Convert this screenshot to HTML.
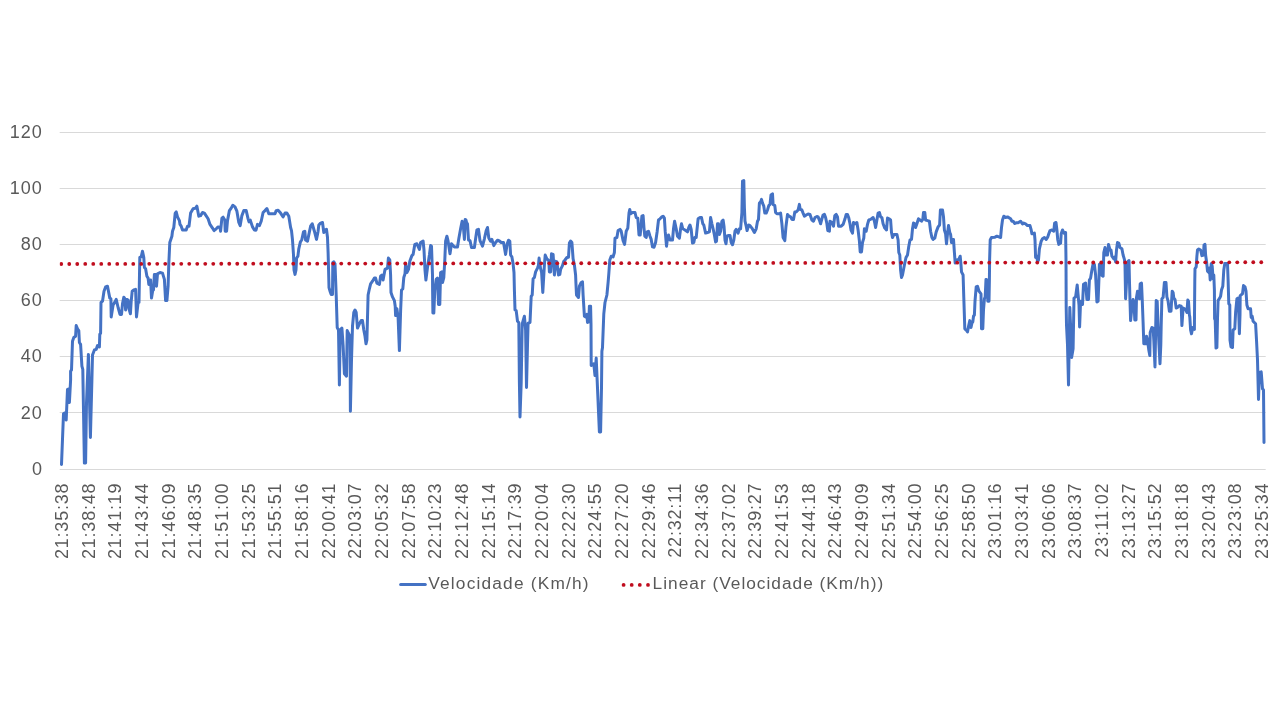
<!DOCTYPE html>
<html><head><meta charset="utf-8"><title>Velocidade (Km/h)</title>
<style>
html,body{margin:0;padding:0;background:#fff;}
body{width:1280px;height:720px;overflow:hidden;font-family:"Liberation Sans",sans-serif;}
svg{display:block;}
svg text{font-family:"Liberation Sans",sans-serif;fill:#595959;}
.ax{font-size:18px;letter-spacing:0.8px;}.ay{font-size:18px;letter-spacing:1px;}
.lg{font-size:17.3px;}
</style></head><body>
<svg width="1280" height="720" viewBox="0 0 1280 720">
<rect x="0" y="0" width="1280" height="720" fill="#ffffff"/>
<g stroke="#d9d9d9" stroke-width="1" fill="none">
<line x1="59.7" y1="132.5" x2="1265.7" y2="132.5"/>
<line x1="59.7" y1="188.5" x2="1265.7" y2="188.5"/>
<line x1="59.7" y1="244.5" x2="1265.7" y2="244.5"/>
<line x1="59.7" y1="300.5" x2="1265.7" y2="300.5"/>
<line x1="59.7" y1="356.5" x2="1265.7" y2="356.5"/>
<line x1="59.7" y1="412.5" x2="1265.7" y2="412.5"/>
<line x1="59.7" y1="469.5" x2="1265.7" y2="469.5"/>
</g>
<g class="ay" text-anchor="end">
<text x="42.9" y="138.2">120</text>
<text x="42.9" y="194.2">100</text>
<text x="42.9" y="250.2">80</text>
<text x="42.9" y="306.2">60</text>
<text x="42.9" y="362.2">40</text>
<text x="42.9" y="418.6">20</text>
<text x="42.9" y="475.2">0</text>
</g>
<g class="ax" text-anchor="end">
<text transform="translate(68.15 482.6) rotate(-90)">21:35:38</text>
<text transform="translate(94.81 482.6) rotate(-90)">21:38:48</text>
<text transform="translate(121.48 482.6) rotate(-90)">21:41:19</text>
<text transform="translate(148.14 482.6) rotate(-90)">21:43:44</text>
<text transform="translate(174.80 482.6) rotate(-90)">21:46:09</text>
<text transform="translate(201.47 482.6) rotate(-90)">21:48:35</text>
<text transform="translate(228.13 482.6) rotate(-90)">21:51:00</text>
<text transform="translate(254.79 482.6) rotate(-90)">21:53:25</text>
<text transform="translate(281.46 482.6) rotate(-90)">21:55:51</text>
<text transform="translate(308.12 482.6) rotate(-90)">21:58:16</text>
<text transform="translate(334.78 482.6) rotate(-90)">22:00:41</text>
<text transform="translate(361.45 482.6) rotate(-90)">22:03:07</text>
<text transform="translate(388.11 482.6) rotate(-90)">22:05:32</text>
<text transform="translate(414.77 482.6) rotate(-90)">22:07:58</text>
<text transform="translate(441.44 482.6) rotate(-90)">22:10:23</text>
<text transform="translate(468.10 482.6) rotate(-90)">22:12:48</text>
<text transform="translate(494.76 482.6) rotate(-90)">22:15:14</text>
<text transform="translate(521.43 482.6) rotate(-90)">22:17:39</text>
<text transform="translate(548.09 482.6) rotate(-90)">22:20:04</text>
<text transform="translate(574.75 482.6) rotate(-90)">22:22:30</text>
<text transform="translate(601.42 482.6) rotate(-90)">22:24:55</text>
<text transform="translate(628.08 482.6) rotate(-90)">22:27:20</text>
<text transform="translate(654.74 482.6) rotate(-90)">22:29:46</text>
<text transform="translate(681.41 482.6) rotate(-90)">22:32:11</text>
<text transform="translate(708.07 482.6) rotate(-90)">22:34:36</text>
<text transform="translate(734.73 482.6) rotate(-90)">22:37:02</text>
<text transform="translate(761.40 482.6) rotate(-90)">22:39:27</text>
<text transform="translate(788.06 482.6) rotate(-90)">22:41:53</text>
<text transform="translate(814.72 482.6) rotate(-90)">22:44:18</text>
<text transform="translate(841.39 482.6) rotate(-90)">22:46:43</text>
<text transform="translate(868.05 482.6) rotate(-90)">22:49:09</text>
<text transform="translate(894.71 482.6) rotate(-90)">22:51:34</text>
<text transform="translate(921.38 482.6) rotate(-90)">22:54:00</text>
<text transform="translate(948.04 482.6) rotate(-90)">22:56:25</text>
<text transform="translate(974.70 482.6) rotate(-90)">22:58:50</text>
<text transform="translate(1001.37 482.6) rotate(-90)">23:01:16</text>
<text transform="translate(1028.03 482.6) rotate(-90)">23:03:41</text>
<text transform="translate(1054.69 482.6) rotate(-90)">23:06:06</text>
<text transform="translate(1081.36 482.6) rotate(-90)">23:08:37</text>
<text transform="translate(1108.02 482.6) rotate(-90)">23:11:02</text>
<text transform="translate(1134.68 482.6) rotate(-90)">23:13:27</text>
<text transform="translate(1161.35 482.6) rotate(-90)">23:15:52</text>
<text transform="translate(1188.01 482.6) rotate(-90)">23:18:18</text>
<text transform="translate(1214.67 482.6) rotate(-90)">23:20:43</text>
<text transform="translate(1241.34 482.6) rotate(-90)">23:23:08</text>
<text transform="translate(1268.00 482.6) rotate(-90)">23:25:34</text>
</g>
<polyline fill="none" stroke="#4472c4" stroke-width="3" stroke-linejoin="round" stroke-linecap="round" points="61.5,464.4 63.5,413.8 65.0,412.8 66.2,420.0 67.5,389.4 68.8,389.0 69.4,402.5 70.6,380.0 70.6,371.2 71.5,370.0 72.5,341.2 73.8,337.5 75.6,336.2 76.2,325.6 77.5,328.8 78.8,330.6 79.4,342.5 80.6,344.4 81.9,366.2 82.8,369.4 84.4,463.1 85.6,463.1 86.5,403.1 88.4,354.4 90.4,437.5 91.9,380.0 92.5,355.0 94.4,350.0 96.2,349.4 97.5,345.6 99.4,346.9 99.8,334.4 100.6,333.1 101.0,302.5 102.5,301.2 104.0,291.2 105.6,286.9 107.5,286.2 109.8,298.1 110.9,298.8 111.2,316.9 113.1,305.0 115.0,301.9 116.2,299.4 118.1,307.5 120.0,314.4 121.5,314.4 122.5,303.8 123.8,297.2 125.0,298.8 125.6,310.0 126.9,299.4 128.1,300.0 129.0,308.8 130.4,313.8 131.2,301.2 132.2,291.2 133.8,290.0 135.6,289.4 136.5,316.9 138.1,302.5 139.0,302.5 139.8,257.5 141.2,256.9 142.5,251.2 143.8,257.5 144.4,267.5 145.6,268.8 146.9,276.2 148.1,278.1 148.8,284.4 150.6,280.0 151.5,298.1 152.8,290.0 153.5,290.0 154.4,274.4 155.6,274.4 156.5,286.2 157.5,273.8 160.0,272.5 162.5,273.1 164.4,279.4 165.6,300.6 166.9,300.6 168.1,286.2 168.8,263.8 169.8,242.5 171.9,236.2 172.5,231.2 173.8,227.5 175.2,213.1 176.2,211.9 177.5,216.9 179.4,220.6 180.0,224.4 181.2,226.2 182.5,230.0 186.2,230.0 187.5,226.2 189.0,226.2 190.6,213.1 193.1,208.8 195.6,208.1 196.9,206.2 198.8,216.2 200.6,215.6 202.5,212.5 204.4,213.1 208.1,218.8 210.0,224.4 212.5,228.1 214.0,230.6 216.2,228.8 218.1,226.9 220.0,227.5 220.6,231.2 221.9,218.1 223.1,217.2 224.8,220.0 225.2,231.2 226.6,231.2 227.5,220.6 229.4,210.6 231.2,208.1 232.8,205.2 235.0,206.9 236.9,211.2 238.8,222.5 240.2,225.6 241.9,215.6 243.8,210.6 246.2,210.6 248.1,218.8 249.0,221.9 250.2,220.0 252.5,226.9 254.4,230.0 256.0,230.2 257.5,224.4 259.4,225.6 261.2,221.2 263.1,212.5 265.0,210.6 266.9,208.5 268.8,213.8 275.0,213.8 276.2,210.6 278.1,210.2 280.6,213.1 283.1,216.9 285.0,213.1 286.9,213.1 288.8,216.2 290.6,227.5 291.5,230.6 292.5,240.0 293.5,255.0 294.0,270.0 295.0,274.4 296.0,270.0 296.6,258.1 297.9,256.2 298.8,248.8 300.4,241.9 301.9,239.4 303.5,231.9 304.8,231.2 305.6,240.0 307.5,241.2 309.4,231.9 310.6,226.2 312.2,223.8 314.4,231.2 316.5,239.4 318.1,231.2 318.8,225.0 320.6,223.1 322.5,222.5 323.8,232.5 325.0,230.0 326.5,229.4 327.5,237.5 328.1,252.5 328.5,267.5 329.0,287.5 330.0,291.2 331.2,294.4 332.5,294.4 332.8,262.5 333.8,261.9 335.0,263.8 336.2,295.0 337.2,327.5 338.5,330.0 339.4,385.0 340.2,330.0 341.9,328.1 343.1,345.0 344.4,373.8 346.5,376.2 347.2,330.6 348.8,333.8 350.0,336.2 350.4,411.2 351.5,360.0 352.5,326.2 353.8,312.5 355.0,310.0 356.2,312.5 357.5,328.1 359.4,323.8 361.2,320.6 362.5,320.6 363.8,330.0 365.0,336.2 366.0,343.8 366.9,340.0 368.1,295.0 369.4,288.8 370.6,283.8 372.5,281.2 374.4,278.1 375.6,278.1 376.9,283.1 379.4,284.4 380.6,276.2 381.9,275.0 383.1,280.0 385.0,269.4 387.5,268.1 388.4,258.1 389.8,260.0 390.6,275.0 391.0,292.5 392.5,296.9 394.4,300.6 395.2,306.2 395.6,315.6 396.9,308.8 398.1,317.5 399.4,350.6 400.6,311.2 401.5,290.0 402.8,288.8 403.8,277.5 405.0,273.8 405.6,263.8 406.9,272.5 408.5,269.4 409.8,261.2 411.9,255.6 413.1,254.4 414.8,244.4 416.9,243.8 419.4,249.4 420.6,242.5 423.1,241.0 424.0,250.0 425.0,270.0 425.9,280.0 427.5,267.5 429.4,255.0 430.6,245.6 431.5,246.2 432.5,275.0 432.6,290.0 432.9,313.1 433.8,313.1 434.8,290.0 436.2,279.4 437.5,278.1 438.5,304.4 439.8,304.4 440.6,272.5 441.9,271.9 442.5,282.5 443.8,277.5 444.8,260.0 445.6,241.2 446.9,236.2 448.1,241.2 450.0,253.8 451.5,243.8 454.4,246.9 457.5,246.9 458.8,238.8 460.6,228.8 462.1,221.2 463.1,223.1 464.4,239.4 465.2,219.4 466.0,220.0 466.9,223.8 467.5,223.8 468.5,240.0 470.0,240.6 471.5,247.5 474.4,247.5 475.6,238.8 476.9,230.0 478.5,229.4 480.0,240.6 482.5,246.2 484.4,238.8 486.2,230.6 487.5,227.5 488.8,238.1 490.6,241.2 491.9,239.4 493.8,245.6 495.6,242.5 497.5,240.2 499.4,241.0 501.2,242.5 503.5,242.5 504.4,247.5 505.6,254.4 507.2,243.8 508.5,240.2 509.8,241.2 510.6,255.0 511.9,256.9 513.1,263.8 514.0,272.5 514.4,290.0 515.0,310.0 516.2,310.6 517.5,321.2 518.8,322.5 519.4,382.5 520.0,416.9 521.2,382.5 522.2,323.8 524.4,316.2 525.6,330.0 526.5,387.5 527.5,345.0 528.1,323.1 530.0,322.5 531.2,296.2 532.2,295.0 533.1,278.8 534.4,277.5 535.6,271.9 537.5,268.1 538.4,265.6 539.1,258.1 540.2,266.9 541.6,272.5 542.8,292.5 544.4,265.0 545.2,255.0 546.9,258.8 548.8,260.6 549.4,271.9 550.6,271.9 551.5,253.8 553.1,254.4 554.4,275.0 555.6,261.2 556.9,261.9 558.5,275.0 559.8,274.4 560.6,269.4 562.5,265.6 563.8,261.2 565.0,260.0 566.9,257.5 568.5,257.2 569.4,243.1 570.6,241.0 571.9,242.5 573.1,258.8 574.4,265.0 575.6,275.0 575.9,282.5 576.5,295.0 578.5,297.5 579.4,286.2 581.2,282.5 582.5,281.9 583.1,295.0 584.4,316.2 585.6,316.9 586.9,314.4 587.5,322.5 588.8,321.9 589.4,306.2 590.6,306.2 591.0,323.8 591.2,365.6 593.8,363.8 595.0,375.6 596.2,358.1 599.4,431.9 600.6,431.9 601.5,387.5 601.9,351.2 602.5,347.5 603.8,313.8 605.0,302.5 606.9,295.0 608.1,282.5 608.8,273.8 609.8,260.0 611.2,256.2 613.1,256.9 614.4,252.5 615.0,238.1 616.9,237.5 618.1,230.6 620.0,229.4 621.2,231.2 623.1,240.6 624.6,244.4 626.2,231.2 627.8,228.1 629.0,213.1 629.8,209.4 630.6,213.8 632.5,212.5 635.0,212.5 636.2,217.5 637.8,218.1 639.0,235.0 640.2,235.0 641.9,216.2 643.1,215.6 644.0,228.1 644.8,236.2 646.2,237.5 647.2,231.9 648.5,231.2 650.0,236.2 651.2,239.4 652.5,246.9 654.0,247.2 655.6,242.5 657.2,231.2 658.5,220.0 660.0,218.8 661.9,216.9 663.1,216.2 664.4,218.1 665.2,231.2 666.5,246.2 667.5,238.1 668.5,235.0 670.0,240.0 672.5,240.0 673.5,228.8 674.6,221.2 676.2,228.8 677.5,236.2 679.4,238.1 680.6,228.8 681.5,223.8 682.8,228.8 685.0,230.0 687.5,231.9 688.8,227.5 690.0,225.0 691.2,229.4 692.5,243.1 693.8,242.5 694.8,237.5 696.2,237.5 698.1,218.8 700.0,217.5 701.5,217.5 702.8,223.8 703.8,225.0 705.6,233.1 707.5,232.5 709.4,231.9 710.6,217.5 711.9,223.8 713.1,228.8 714.4,235.0 715.6,241.9 716.5,241.2 717.5,223.8 718.5,223.8 719.4,234.4 720.6,231.2 721.9,221.2 723.1,220.0 724.0,226.2 725.0,240.0 726.0,243.8 726.9,236.2 728.1,235.6 730.0,235.6 731.2,242.5 732.5,244.8 733.8,240.0 735.0,231.2 736.2,229.4 738.1,233.1 739.4,228.8 740.6,228.8 741.9,212.5 742.5,181.2 743.8,180.6 744.4,207.5 745.0,221.2 746.2,226.2 747.1,230.6 748.8,225.0 750.0,225.6 751.9,228.1 754.4,232.5 756.2,228.8 757.5,221.2 758.5,219.4 759.4,203.1 760.6,201.9 761.5,199.4 762.5,203.1 763.8,206.2 764.8,213.1 766.2,213.1 767.5,210.0 768.8,205.6 770.0,204.4 771.0,195.0 772.5,193.8 773.1,204.4 774.8,205.6 775.6,212.5 776.9,213.8 779.4,213.8 780.6,213.1 781.9,223.8 783.1,237.5 784.8,240.6 786.0,226.2 787.5,214.4 789.0,216.2 790.6,216.9 791.9,219.4 793.5,219.4 794.8,211.9 796.2,211.9 798.1,210.0 799.4,204.4 800.2,209.4 801.9,210.0 803.1,213.1 804.4,216.2 806.2,215.0 808.1,214.0 810.0,214.4 811.9,220.0 813.5,221.2 815.0,217.5 816.9,216.5 818.1,216.9 819.8,221.2 820.6,223.8 821.9,218.8 823.1,215.0 824.4,214.4 825.6,217.5 826.9,223.8 827.8,230.6 829.4,231.2 830.0,221.2 831.9,222.5 833.5,226.2 834.8,215.6 836.2,214.4 837.5,216.9 838.5,226.2 841.2,226.2 843.1,224.4 845.0,218.8 846.2,214.4 847.5,214.4 848.8,218.1 850.0,223.8 851.0,230.0 852.5,233.1 853.5,222.5 855.0,223.8 856.9,222.5 858.1,230.0 859.4,241.2 860.2,251.9 861.5,251.9 862.5,242.5 863.8,238.1 864.4,228.8 866.2,231.2 867.5,224.4 868.8,220.0 870.6,219.4 873.1,217.5 874.4,221.2 875.6,227.5 876.9,220.0 878.1,213.1 879.4,212.5 880.6,216.9 881.9,217.5 883.1,223.8 884.8,228.1 886.5,230.0 887.5,218.1 889.0,218.8 890.6,220.0 891.5,232.5 892.5,237.5 894.0,234.4 896.9,234.4 898.1,240.0 898.8,252.5 899.8,255.0 900.6,270.0 901.5,277.5 902.5,275.0 904.4,265.0 906.0,257.5 907.5,255.0 908.8,246.2 910.0,240.0 911.5,239.4 912.5,228.8 913.5,223.1 914.8,223.8 915.6,227.5 916.9,223.8 918.5,218.8 920.0,220.0 921.5,221.2 922.8,219.4 923.5,212.5 924.8,212.5 925.6,220.0 927.5,220.6 929.4,221.2 930.6,231.2 931.9,237.5 933.1,239.4 934.8,238.1 936.2,231.9 938.1,226.9 939.6,225.0 940.4,210.0 942.5,210.0 943.5,216.9 944.4,230.0 945.6,233.8 946.5,243.8 947.5,233.8 948.5,225.6 949.8,232.5 950.6,234.4 951.5,242.5 952.5,239.4 953.5,239.4 954.4,252.5 955.2,263.1 956.9,260.0 958.8,259.4 960.2,256.2 961.0,265.0 961.5,271.9 963.1,275.0 963.8,297.5 964.8,328.8 966.2,330.0 967.5,331.9 968.8,325.0 969.8,320.6 971.0,327.5 971.9,323.1 972.8,321.9 973.5,316.2 974.4,315.0 975.0,301.2 976.2,286.9 977.5,286.2 979.0,291.2 981.0,293.8 981.5,328.8 982.8,328.8 983.5,310.0 984.4,298.8 985.2,296.9 986.0,279.4 987.2,280.0 987.8,301.2 989.0,301.2 989.4,280.0 989.6,260.0 990.2,240.0 991.5,237.5 995.0,237.2 996.9,236.2 998.8,236.9 1000.6,237.5 1001.5,227.5 1002.5,220.0 1003.8,216.2 1005.6,217.5 1007.5,216.9 1010.6,218.8 1011.9,221.2 1013.1,221.2 1014.8,223.5 1016.2,222.8 1018.1,222.8 1020.6,221.2 1022.5,224.0 1023.8,223.1 1025.6,223.8 1027.5,225.6 1030.0,225.6 1031.2,230.0 1031.9,233.8 1034.4,233.1 1035.0,240.0 1035.6,257.5 1036.9,256.2 1037.5,261.9 1038.5,260.0 1039.4,248.8 1041.2,241.2 1042.5,238.8 1044.4,237.5 1046.2,239.4 1047.8,236.9 1048.8,233.8 1050.0,230.6 1051.9,230.0 1053.8,231.2 1054.6,223.1 1056.0,222.5 1056.9,230.0 1057.8,240.0 1058.8,244.4 1060.6,243.1 1061.2,233.8 1062.5,230.0 1064.0,233.1 1065.6,232.5 1066.0,260.0 1066.2,307.5 1066.5,325.0 1067.5,345.0 1068.5,385.0 1069.2,345.0 1069.8,307.5 1070.6,326.2 1071.6,357.5 1073.1,348.8 1074.0,298.1 1075.6,296.9 1077.2,285.0 1078.1,295.0 1079.0,305.0 1079.6,326.9 1080.6,301.2 1082.5,304.4 1083.5,284.4 1085.6,283.1 1086.9,299.4 1088.5,299.4 1089.4,280.0 1090.6,278.1 1091.9,270.0 1093.1,263.8 1094.4,264.4 1095.6,275.0 1096.9,301.9 1098.1,301.2 1099.0,277.5 1099.4,264.4 1100.6,263.8 1101.5,275.0 1103.1,276.2 1103.8,252.5 1105.0,247.5 1106.2,255.0 1107.5,255.0 1108.5,244.4 1110.0,250.0 1111.0,250.0 1111.9,256.2 1113.8,258.8 1115.0,256.9 1115.6,261.9 1116.5,250.0 1117.5,242.5 1118.8,243.1 1120.0,247.5 1121.9,248.8 1123.1,255.0 1124.4,259.4 1125.0,265.0 1125.6,298.8 1126.5,282.5 1128.1,261.2 1129.0,260.6 1129.5,282.5 1130.0,301.2 1130.6,320.6 1131.9,307.5 1133.1,299.4 1134.0,302.5 1134.8,320.0 1136.0,320.0 1136.5,297.5 1137.5,291.2 1138.8,291.9 1139.4,298.8 1140.2,283.8 1141.5,283.1 1142.2,298.8 1143.1,322.5 1143.8,343.8 1145.6,343.8 1146.5,336.2 1147.5,340.0 1148.8,350.0 1149.8,355.6 1150.2,332.5 1151.9,327.5 1153.1,328.1 1153.8,340.0 1155.0,366.9 1155.6,332.5 1156.2,300.6 1157.2,301.2 1158.1,326.2 1159.0,345.0 1160.0,363.8 1160.8,345.0 1161.2,325.0 1161.9,298.8 1163.1,297.5 1164.4,282.5 1166.0,282.5 1166.9,296.9 1168.1,301.2 1169.4,311.2 1171.0,311.2 1172.2,291.2 1173.1,292.5 1173.8,298.1 1175.0,299.4 1176.2,308.1 1177.5,307.5 1179.4,305.6 1181.2,306.2 1181.9,325.6 1183.1,308.1 1185.6,309.4 1186.9,312.5 1187.8,300.0 1188.5,301.2 1189.4,315.0 1189.8,316.9 1190.6,330.0 1191.5,333.8 1192.8,327.5 1194.4,329.4 1194.6,302.5 1194.8,280.0 1195.0,268.8 1196.2,266.9 1196.9,256.2 1197.5,250.0 1198.8,249.0 1200.6,250.0 1201.9,255.6 1203.5,255.0 1204.0,245.0 1205.0,244.4 1205.6,255.0 1206.5,261.2 1207.5,271.2 1208.8,272.5 1209.4,268.1 1210.2,280.0 1211.2,263.8 1212.2,266.2 1213.1,278.8 1213.8,275.0 1214.4,290.0 1214.6,318.8 1215.2,320.0 1216.0,348.1 1216.9,347.5 1217.5,318.8 1218.1,300.6 1220.0,297.5 1220.6,296.2 1221.5,290.0 1222.8,286.2 1223.8,270.0 1224.8,263.5 1227.5,263.5 1228.1,280.0 1228.8,303.8 1229.8,305.0 1230.0,340.0 1231.0,346.9 1232.5,347.5 1233.1,330.0 1234.8,328.8 1235.6,312.5 1236.9,298.8 1238.1,298.1 1238.8,315.0 1239.4,333.8 1240.0,315.0 1240.2,295.6 1242.5,293.8 1243.5,285.6 1245.0,286.9 1246.0,291.2 1246.9,305.0 1248.1,308.8 1250.6,308.8 1251.2,317.5 1252.2,316.2 1253.1,321.2 1255.6,323.8 1256.5,340.0 1257.5,360.0 1258.5,399.4 1259.4,372.5 1261.2,371.9 1262.5,388.8 1263.5,390.0 1264.0,442.5"/>
<clipPath id="plot"><rect x="59.7" y="120" width="1206" height="352"/></clipPath>
<g fill="#c00d1e" clip-path="url(#plot)">
<circle cx="61.25" cy="264.00" r="1.9"/>
<circle cx="69.25" cy="263.99" r="1.9"/>
<circle cx="77.25" cy="263.98" r="1.9"/>
<circle cx="85.25" cy="263.96" r="1.9"/>
<circle cx="93.25" cy="263.95" r="1.9"/>
<circle cx="101.25" cy="263.94" r="1.9"/>
<circle cx="109.25" cy="263.93" r="1.9"/>
<circle cx="117.25" cy="263.92" r="1.9"/>
<circle cx="125.25" cy="263.91" r="1.9"/>
<circle cx="133.25" cy="263.89" r="1.9"/>
<circle cx="141.25" cy="263.88" r="1.9"/>
<circle cx="149.25" cy="263.87" r="1.9"/>
<circle cx="157.25" cy="263.86" r="1.9"/>
<circle cx="165.25" cy="263.85" r="1.9"/>
<circle cx="173.25" cy="263.84" r="1.9"/>
<circle cx="181.25" cy="263.82" r="1.9"/>
<circle cx="189.25" cy="263.81" r="1.9"/>
<circle cx="197.25" cy="263.80" r="1.9"/>
<circle cx="205.25" cy="263.79" r="1.9"/>
<circle cx="213.25" cy="263.78" r="1.9"/>
<circle cx="221.25" cy="263.77" r="1.9"/>
<circle cx="229.25" cy="263.75" r="1.9"/>
<circle cx="237.25" cy="263.74" r="1.9"/>
<circle cx="245.25" cy="263.73" r="1.9"/>
<circle cx="253.25" cy="263.72" r="1.9"/>
<circle cx="261.25" cy="263.71" r="1.9"/>
<circle cx="269.25" cy="263.70" r="1.9"/>
<circle cx="277.25" cy="263.69" r="1.9"/>
<circle cx="285.25" cy="263.67" r="1.9"/>
<circle cx="293.25" cy="263.66" r="1.9"/>
<circle cx="301.25" cy="263.65" r="1.9"/>
<circle cx="309.25" cy="263.64" r="1.9"/>
<circle cx="317.25" cy="263.63" r="1.9"/>
<circle cx="325.25" cy="263.62" r="1.9"/>
<circle cx="333.25" cy="263.60" r="1.9"/>
<circle cx="341.25" cy="263.59" r="1.9"/>
<circle cx="349.25" cy="263.58" r="1.9"/>
<circle cx="357.25" cy="263.57" r="1.9"/>
<circle cx="365.25" cy="263.56" r="1.9"/>
<circle cx="373.25" cy="263.55" r="1.9"/>
<circle cx="381.25" cy="263.53" r="1.9"/>
<circle cx="389.25" cy="263.52" r="1.9"/>
<circle cx="397.25" cy="263.51" r="1.9"/>
<circle cx="405.25" cy="263.50" r="1.9"/>
<circle cx="413.25" cy="263.49" r="1.9"/>
<circle cx="421.25" cy="263.48" r="1.9"/>
<circle cx="429.25" cy="263.46" r="1.9"/>
<circle cx="437.25" cy="263.45" r="1.9"/>
<circle cx="445.25" cy="263.44" r="1.9"/>
<circle cx="453.25" cy="263.43" r="1.9"/>
<circle cx="461.25" cy="263.42" r="1.9"/>
<circle cx="469.25" cy="263.40" r="1.9"/>
<circle cx="477.25" cy="263.39" r="1.9"/>
<circle cx="485.25" cy="263.38" r="1.9"/>
<circle cx="493.25" cy="263.37" r="1.9"/>
<circle cx="501.25" cy="263.36" r="1.9"/>
<circle cx="509.25" cy="263.35" r="1.9"/>
<circle cx="517.25" cy="263.33" r="1.9"/>
<circle cx="525.25" cy="263.32" r="1.9"/>
<circle cx="533.25" cy="263.31" r="1.9"/>
<circle cx="541.25" cy="263.30" r="1.9"/>
<circle cx="549.25" cy="263.29" r="1.9"/>
<circle cx="557.25" cy="263.28" r="1.9"/>
<circle cx="565.25" cy="263.26" r="1.9"/>
<circle cx="573.25" cy="263.25" r="1.9"/>
<circle cx="581.25" cy="263.24" r="1.9"/>
<circle cx="589.25" cy="263.23" r="1.9"/>
<circle cx="597.25" cy="263.22" r="1.9"/>
<circle cx="605.25" cy="263.21" r="1.9"/>
<circle cx="613.25" cy="263.19" r="1.9"/>
<circle cx="621.25" cy="263.18" r="1.9"/>
<circle cx="629.25" cy="263.17" r="1.9"/>
<circle cx="637.25" cy="263.16" r="1.9"/>
<circle cx="645.25" cy="263.15" r="1.9"/>
<circle cx="653.25" cy="263.14" r="1.9"/>
<circle cx="661.25" cy="263.12" r="1.9"/>
<circle cx="669.25" cy="263.11" r="1.9"/>
<circle cx="677.25" cy="263.10" r="1.9"/>
<circle cx="685.25" cy="263.09" r="1.9"/>
<circle cx="693.25" cy="263.08" r="1.9"/>
<circle cx="701.25" cy="263.07" r="1.9"/>
<circle cx="709.25" cy="263.06" r="1.9"/>
<circle cx="717.25" cy="263.04" r="1.9"/>
<circle cx="725.25" cy="263.03" r="1.9"/>
<circle cx="733.25" cy="263.02" r="1.9"/>
<circle cx="741.25" cy="263.01" r="1.9"/>
<circle cx="749.25" cy="263.00" r="1.9"/>
<circle cx="757.25" cy="262.99" r="1.9"/>
<circle cx="765.25" cy="262.97" r="1.9"/>
<circle cx="773.25" cy="262.96" r="1.9"/>
<circle cx="781.25" cy="262.95" r="1.9"/>
<circle cx="789.25" cy="262.94" r="1.9"/>
<circle cx="797.25" cy="262.93" r="1.9"/>
<circle cx="805.25" cy="262.92" r="1.9"/>
<circle cx="813.25" cy="262.90" r="1.9"/>
<circle cx="821.25" cy="262.89" r="1.9"/>
<circle cx="829.25" cy="262.88" r="1.9"/>
<circle cx="837.25" cy="262.87" r="1.9"/>
<circle cx="845.25" cy="262.86" r="1.9"/>
<circle cx="853.25" cy="262.85" r="1.9"/>
<circle cx="861.25" cy="262.83" r="1.9"/>
<circle cx="869.25" cy="262.82" r="1.9"/>
<circle cx="877.25" cy="262.81" r="1.9"/>
<circle cx="885.25" cy="262.80" r="1.9"/>
<circle cx="893.25" cy="262.79" r="1.9"/>
<circle cx="901.25" cy="262.77" r="1.9"/>
<circle cx="909.25" cy="262.76" r="1.9"/>
<circle cx="917.25" cy="262.75" r="1.9"/>
<circle cx="925.25" cy="262.74" r="1.9"/>
<circle cx="933.25" cy="262.73" r="1.9"/>
<circle cx="941.25" cy="262.72" r="1.9"/>
<circle cx="949.25" cy="262.70" r="1.9"/>
<circle cx="957.25" cy="262.69" r="1.9"/>
<circle cx="965.25" cy="262.68" r="1.9"/>
<circle cx="973.25" cy="262.67" r="1.9"/>
<circle cx="981.25" cy="262.66" r="1.9"/>
<circle cx="989.25" cy="262.65" r="1.9"/>
<circle cx="997.25" cy="262.63" r="1.9"/>
<circle cx="1005.25" cy="262.62" r="1.9"/>
<circle cx="1013.25" cy="262.61" r="1.9"/>
<circle cx="1021.25" cy="262.60" r="1.9"/>
<circle cx="1029.25" cy="262.59" r="1.9"/>
<circle cx="1037.25" cy="262.58" r="1.9"/>
<circle cx="1045.25" cy="262.56" r="1.9"/>
<circle cx="1053.25" cy="262.55" r="1.9"/>
<circle cx="1061.25" cy="262.54" r="1.9"/>
<circle cx="1069.25" cy="262.53" r="1.9"/>
<circle cx="1077.25" cy="262.52" r="1.9"/>
<circle cx="1085.25" cy="262.51" r="1.9"/>
<circle cx="1093.25" cy="262.50" r="1.9"/>
<circle cx="1101.25" cy="262.48" r="1.9"/>
<circle cx="1109.25" cy="262.47" r="1.9"/>
<circle cx="1117.25" cy="262.46" r="1.9"/>
<circle cx="1125.25" cy="262.45" r="1.9"/>
<circle cx="1133.25" cy="262.44" r="1.9"/>
<circle cx="1141.25" cy="262.43" r="1.9"/>
<circle cx="1149.25" cy="262.41" r="1.9"/>
<circle cx="1157.25" cy="262.40" r="1.9"/>
<circle cx="1165.25" cy="262.39" r="1.9"/>
<circle cx="1173.25" cy="262.38" r="1.9"/>
<circle cx="1181.25" cy="262.37" r="1.9"/>
<circle cx="1189.25" cy="262.36" r="1.9"/>
<circle cx="1197.25" cy="262.34" r="1.9"/>
<circle cx="1205.25" cy="262.33" r="1.9"/>
<circle cx="1213.25" cy="262.32" r="1.9"/>
<circle cx="1221.25" cy="262.31" r="1.9"/>
<circle cx="1229.25" cy="262.30" r="1.9"/>
<circle cx="1237.25" cy="262.29" r="1.9"/>
<circle cx="1245.25" cy="262.27" r="1.9"/>
<circle cx="1253.25" cy="262.26" r="1.9"/>
<circle cx="1261.25" cy="262.25" r="1.9"/>
</g>
<line x1="400.6" y1="584.6" x2="425.3" y2="584.6" stroke="#4472c4" stroke-width="3" stroke-linecap="round"/>
<text class="lg" x="428.2" y="589.4" textLength="160.4" lengthAdjust="spacing">Velocidade (Km/h)</text>
<g fill="#c00d1e"><circle cx="623.6" cy="584.9" r="1.9"/><circle cx="631.7" cy="584.9" r="1.9"/><circle cx="639.8" cy="584.9" r="1.9"/><circle cx="648" cy="584.9" r="1.9"/></g>
<text class="lg" x="652.6" y="589.4" textLength="230.6" lengthAdjust="spacing">Linear (Velocidade (Km/h))</text>
</svg></body></html>
